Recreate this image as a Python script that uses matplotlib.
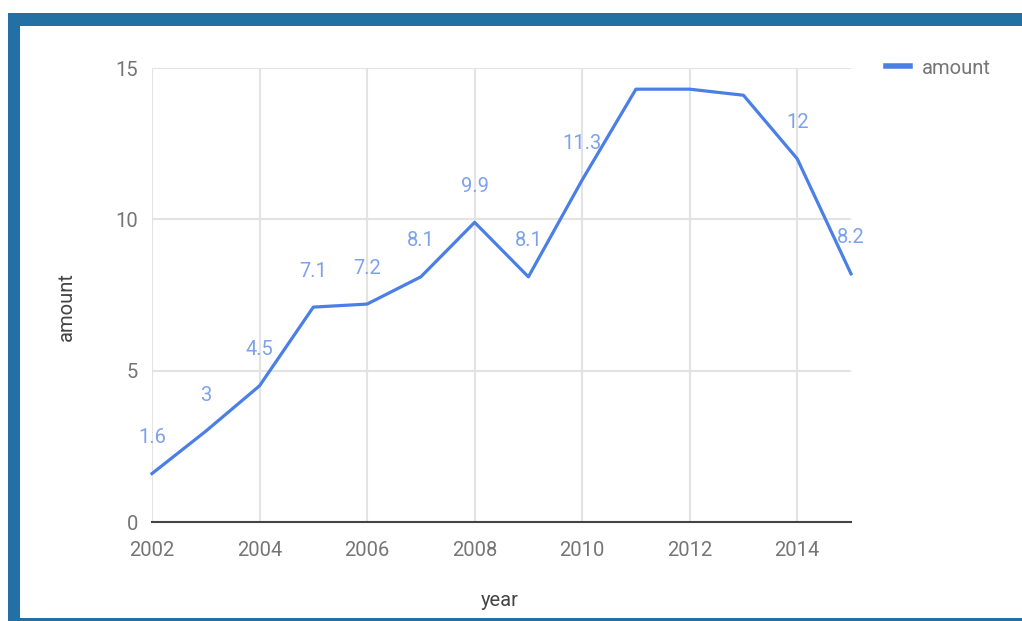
import matplotlib.pyplot as plt
from matplotlib.patches import Rectangle

years = [2002, 2003, 2004, 2005, 2006, 2007, 2008, 2009, 2010, 2011, 2012, 2013, 2014, 2015]
amount = [1.6, 3, 4.5, 7.1, 7.2, 8.1, 9.9, 8.1, 11.3, 14.3, 14.3, 14.1, 12, 8.2]
x_ticks = [2002, 2004, 2006, 2008, 2010, 2012, 2014]
y_ticks = [0, 5, 10, 15]

plt.rcParams['font.family'] = ['Roboto', 'DejaVu Sans']

W, H = 1022, 621
fs = 14.5
fig = plt.figure(figsize=(W / 100, H / 100), dpi=100)
fig.patch.set_facecolor('white')

# blue frame round the chart, kept behind the axes
blue = '#2370a5'
fig.patches.append(Rectangle((8 / W, 0), 1, 1 - 13 / H, transform=fig.transFigure,
                             facecolor=blue, edgecolor='none', zorder=-2))
fig.patches.append(Rectangle((20 / W, 3 / H), 1, 1 - 26 / H - 3 / H, transform=fig.transFigure,
                             facecolor='white', edgecolor='none', zorder=-1))

ax = fig.add_axes([152 / W, 1 - 522 / H, (851 - 152) / W, (522 - 68) / H])
ax.set_facecolor('none')

line_color = '#4a7fe6'
ax.plot(years, amount, color=line_color, linewidth=2.3, label='amount',
        clip_on=False, zorder=3)

# labels that would not fit under the top of the plot are left out
for x, y in zip(years, amount):
    if y + 1.3 > 15:
        continue
    ax.annotate('%g' % y, (x, y), xytext=(0, 36), textcoords='offset pixels',
                ha='center', va='center', fontsize=fs, color='#7da2ec', zorder=4)

ax.set_xlim(2002, 2015)
ax.set_ylim(0, 15)
ax.set_xticks(x_ticks)
ax.set_yticks(y_ticks)
ax.tick_params(length=0, labelsize=fs, labelcolor='#757575')
ax.tick_params(axis='x', pad=14)
ax.tick_params(axis='y', pad=10)
ax.grid(True, color='#e3e3e3', linewidth=1.5, zorder=1)
ax.set_axisbelow(True)
for s in ['top', 'right', 'left']:
    ax.spines[s].set_visible(False)
ax.spines['bottom'].set_color('#444444')
ax.spines['bottom'].set_linewidth(1.5)

fig.text(500 / W, 1 - 601 / H, 'year', ha='center', va='center', fontsize=fs, color='#444444')
fig.text(66 / W, 1 - 307 / H, 'amount', ha='center', va='center', rotation=90,
         fontsize=fs, color='#444444')

leg = fig.legend(loc='center left', bbox_to_anchor=(886 / W, 1 - 68 / H), frameon=False,
                 handlelength=1.2, handletextpad=0.6, fontsize=fs, borderaxespad=0,
                 borderpad=0)
for t in leg.get_texts():
    t.set_color('#757575')
for h in leg.get_lines():
    h.set_linewidth(4)

fig.savefig('out.png', dpi=100)
